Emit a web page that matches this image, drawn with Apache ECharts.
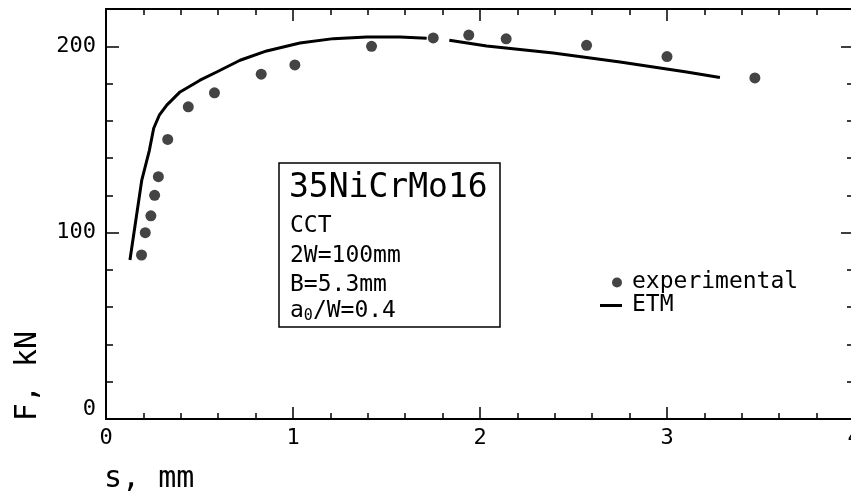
<!DOCTYPE html>
<html><head><meta charset="utf-8">
<script src="https://cdn.jsdelivr.net/npm/echarts@6/dist/echarts.min.js"></script>
<style>html,body{margin:0;padding:0;background:#fff}#c{width:851px;height:494px}</style>
</head><body><div id="c"></div>
<script>
// experimental points: displacement s (mm), force F (kN)
const expS = [0.19, 0.21, 0.24, 0.26, 0.28, 0.33, 0.44, 0.58, 0.83, 1.01, 1.42, 1.75, 1.94, 2.14, 2.57, 3.0, 3.47];
const expF = [88, 100, 109, 120, 130, 150, 167.5, 175, 185, 190, 200, 204.5, 206, 204, 200.5, 194.5, 183];
// ETM curve, first branch
const etm1S = [0.128, 0.191, 0.232, 0.255, 0.285, 0.325, 0.396, 0.503, 0.592, 0.717, 0.859, 1.037, 1.216, 1.394, 1.572, 1.715];
const etm1F = [85.3, 128, 144.2, 156, 163, 168.4, 175.5, 181.8, 186.2, 192.5, 197.5, 201.8, 204.1, 205, 205, 204.3];
// ETM curve, second branch
const etm2S = [1.836, 2.036, 2.392, 2.749, 3.105, 3.283];
const etm2F = [203.2, 200.2, 196.4, 191.6, 186.2, 183.2];
// axis ticks
const xTicks = [0, 1, 2, 3, 4];
const yLabels = [0, 100, 200];

const FONT = '"DejaVu Sans Mono", monospace';
const zip = (a, b) => a.map((v, i) => [v, b[i]]);
const chart = echarts.init(document.getElementById('c'), null, {renderer: 'canvas'});

const lineSt = {color: '#000', width: 2};
const baseX = {
  type: 'value', min: xTicks[0], max: xTicks[xTicks.length - 1], interval: 1,
  axisLine: {show: true, onZero: false, lineStyle: lineSt},
  splitLine: {show: false},
  axisTick: {inside: true, length: 12, lineStyle: {color: '#000', width: 1.5}},
  minorTick: {show: true, splitNumber: 5, length: 6, lineStyle: {color: '#000', width: 1.5}}
};
const baseYMinor = {
  type: 'value', min: 0, max: 220, interval: 20,
  axisLine: {show: true, onZero: false, lineStyle: lineSt},
  splitLine: {show: false},
  axisTick: {inside: true, length: 7, lineStyle: {color: '#000', width: 1.5}}
};
const baseYMajor = {
  type: 'value', min: 0, max: 220, interval: 100,
  axisLine: {show: false, onZero: false}, splitLine: {show: false}, axisLabel: {show: false},
  axisTick: {inside: true, length: 13, lineStyle: {color: '#000', width: 1.5}}
};

chart.setOption({
  animation: false,
  backgroundColor: '#fff',
  grid: {left: 106, width: 748, top: 9, bottom: 75, containLabel: false, outerBoundsMode: 'none'},
  xAxis: [
    Object.assign({}, baseX, {position: 'bottom',
      axisLabel: {fontFamily: FONT, fontSize: 22, color: '#000', margin: 8}}),
    Object.assign({}, baseX, {position: 'top', axisLabel: {show: false}})
  ],
  yAxis: [
    Object.assign({}, baseYMinor, {position: 'left',
      axisLabel: {fontFamily: FONT, fontSize: 22, color: '#000', margin: 10,
        formatter: v => yLabels.indexOf(v) < 0 ? '' : (v === 0 ? '{z|0}' : String(v)),
        rich: {z: {fontFamily: FONT, fontSize: 22, color: '#000', padding: [0, 0, 20, 0]}}}}),
    Object.assign({}, baseYMinor, {position: 'right', axisLabel: {show: false}}),
    Object.assign({}, baseYMajor, {position: 'left'}),
    Object.assign({}, baseYMajor, {position: 'right'})
  ],
  legend: {
    orient: 'vertical', left: 600, top: 271, itemGap: 0, padding: 0,
    itemWidth: 22, itemHeight: 10,
    textStyle: {fontFamily: FONT, fontSize: 23, color: '#000', lineHeight: 23, padding: [0, 0, 0, 5]},
    data: [
      {name: 'experimental', icon: 'path://M0,5L0.01,5M12,5A5,5,0,1,1,22,5A5,5,0,1,1,12,5Z'},
      {name: 'ETM', icon: 'path://M0,0L22,0L22,3L0,3Z'}
    ]
  },
  series: [
    {name: 'experimental', type: 'scatter', data: zip(expS, expF), symbol: 'circle', symbolSize: 11,
      itemStyle: {color: '#151515'}, z: 3},
    {name: 'ETM', type: 'line', data: zip(etm1S, etm1F), showSymbol: false, symbol: 'none',
      lineStyle: {color: '#000', width: 3}, itemStyle: {color: '#000'}},
    {name: 'ETM', type: 'line', data: zip(etm2S, etm2F), showSymbol: false, symbol: 'none',
      lineStyle: {color: '#000', width: 3}, itemStyle: {color: '#000'}}
  ],
  graphic: [
    {type: 'rect', shape: {x: 279, y: 163, width: 221, height: 164},
      style: {fill: 'none', stroke: '#000', lineWidth: 1.5}},
    {type: 'text', style: {text: '35NiCrMo16', x: 289, y: 188, font: '33px ' + FONT, fill: '#000', verticalAlign: 'middle'}},
    {type: 'text', style: {text: 'CCT', x: 290, y: 226, font: '23px ' + FONT, fill: '#000', verticalAlign: 'middle'}},
    {type: 'text', style: {text: '2W=100mm', x: 290, y: 256, font: '23px ' + FONT, fill: '#000', verticalAlign: 'middle'}},
    {type: 'text', style: {text: 'B=5.3mm', x: 290, y: 285, font: '23px ' + FONT, fill: '#000', verticalAlign: 'middle'}},
    {type: 'text', style: {text: '{a|a}{s|0}{a|/W=0.4}', x: 290, y: 311, verticalAlign: 'middle',
      rich: {a: {fontFamily: FONT, fontSize: 23, fill: '#000', color: '#000'},
             s: {fontFamily: FONT, fontSize: 15, fill: '#000', color: '#000', padding: [10, 0, 0, 0]}}}},
    {type: 'text', rotation: Math.PI / 2, x: 28, y: 376,
      style: {text: 'F, kN', x: 0, y: 0, font: '30px ' + FONT, fill: '#000', align: 'center', verticalAlign: 'middle'}},
    {type: 'text', style: {text: 's, mm', x: 104, y: 479, font: '30px ' + FONT, fill: '#000', verticalAlign: 'middle'}}
  ]
});
</script></body></html>
